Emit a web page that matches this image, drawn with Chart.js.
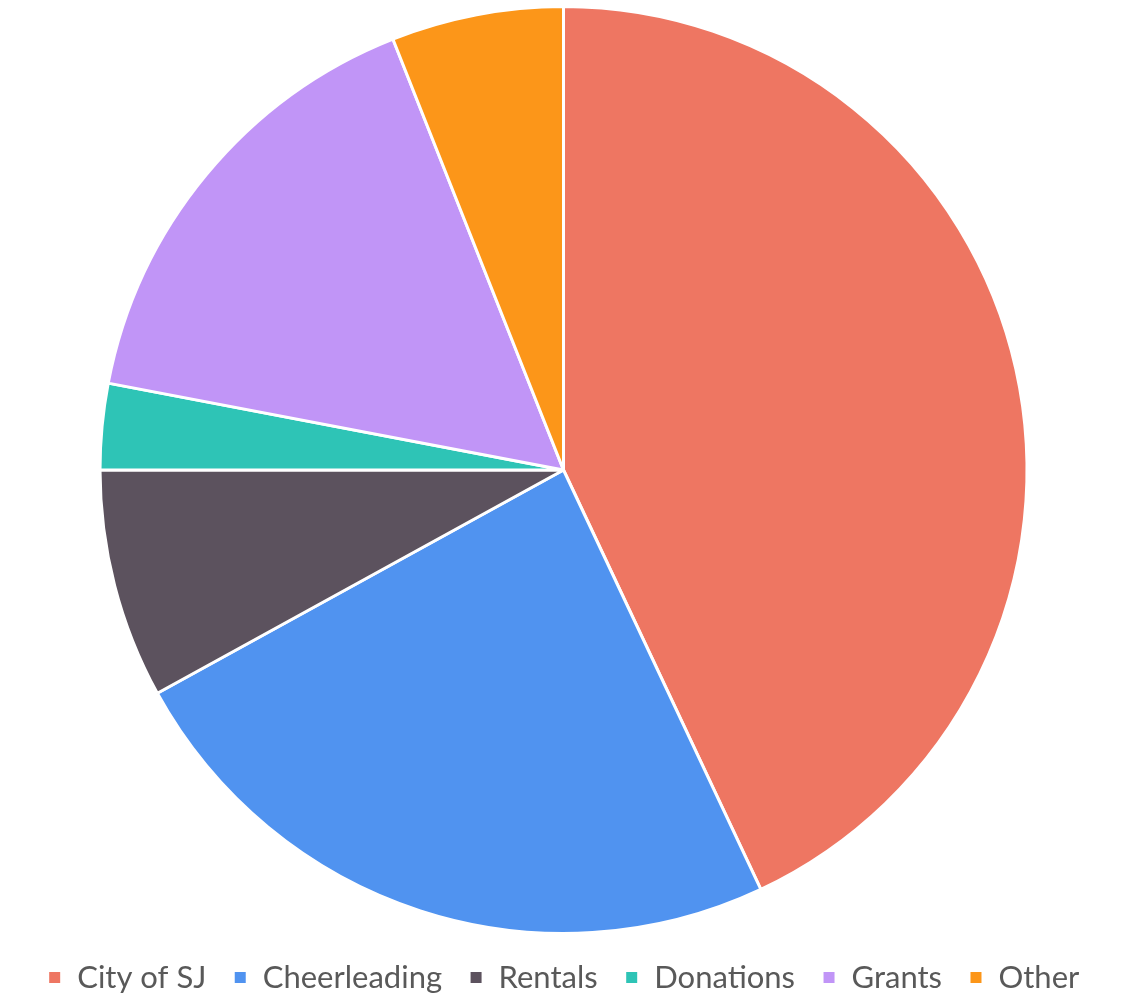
<!DOCTYPE html>
<html>
<head>
<meta charset="utf-8">
<script src="https://cdn.jsdelivr.net/npm/chart.js@4"></script>
<style>
  html, body { margin: 0; padding: 0; background: #fff; }
  #wrap { width: 1127px; height: 1003px; }
</style>
</head>
<body>
<div id="wrap"><canvas id="piechart"></canvas></div>
<script>
const labels = ['City of SJ', 'Cheerleading', 'Rentals', 'Donations', 'Grants', 'Other'];
const values = [43, 24, 8, 3, 16, 6];
const colors = ['#EE7662', '#5093F0', '#5C525E', '#2EC4B6', '#C195F7', '#FC9619'];

const pie = document.getElementById('piechart');
new Chart(pie, {
    type: 'pie',
    data: {
        labels: labels,
        datasets: [{
            data: values,
            backgroundColor: colors,
            borderColor: '#ffffff',
            borderWidth: 3,
        }],
    },
    options: {
        responsive: true,
        maintainAspectRatio: false,
        animation: false,
        layout: {
            padding: { top: 5, bottom: 0, left: 0, right: 0 },
        },
        plugins: {
            tooltip: { enabled: false },
            legend: {
                position: 'bottom',
                labels: {
                    boxWidth: 14,
                    boxHeight: 14,
                    padding: 27,
                    color: '#595959',
                    font: { family: 'Lato', size: 31 },
                },
            },
        },
    },
});
</script>
</body>
</html>
